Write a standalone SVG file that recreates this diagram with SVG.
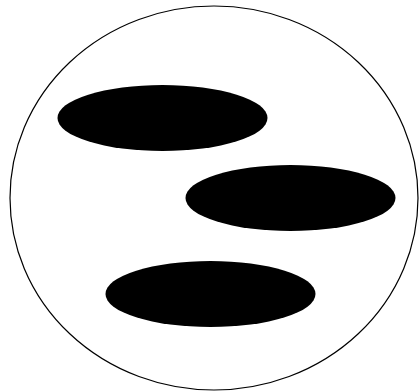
<svg xmlns="http://www.w3.org/2000/svg" width="419" height="392" viewBox="0 0 419 392">
<style>
.outer{fill:#fff;stroke:#000;stroke-width:1.2}
.blob{fill:#000}
</style>
<rect width="419" height="392" fill="#fff"/>
<g id="outer"><ellipse class="outer" cx="214" cy="198" rx="204" ry="192"/></g>
<g id="blob1"><ellipse class="blob" cx="162.5" cy="118" rx="105" ry="33"/></g>
<g id="blob2"><ellipse class="blob" cx="290.5" cy="198" rx="105" ry="33"/></g>
<g id="blob3"><ellipse class="blob" cx="210.5" cy="294" rx="105" ry="33"/></g>
<g id="connectors"/>
</svg>
